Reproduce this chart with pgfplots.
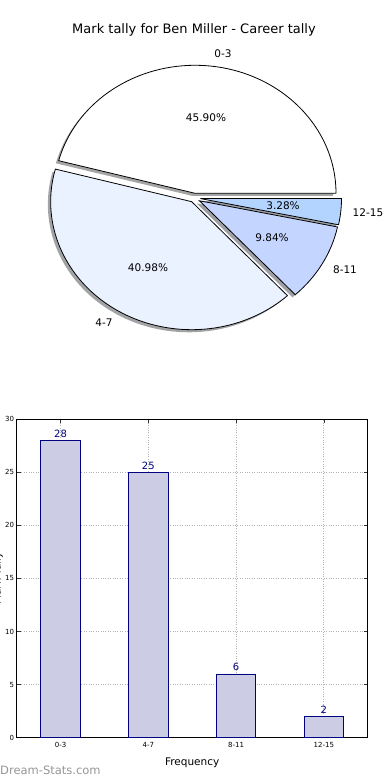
\documentclass[border=0pt]{standalone}
\usepackage{pgfplots}
\pgfplotsset{compat=1.18}
\usepackage{pgfplotstable}
\usepackage{fontspec}
\setmainfont{DejaVu Sans}
\definecolor{barfill}{RGB}{204,204,229}
\definecolor{baredge}{RGB}{0,0,128}
\definecolor{sliceA}{RGB}{255,255,255}
\definecolor{sliceB}{RGB}{234,241,255}
\definecolor{sliceC}{RGB}{196,214,255}
\definecolor{sliceD}{RGB}{179,212,255}
\definecolor{wmgray}{RGB}{150,150,150}

\pgfplotstableread{
idx label count
0 0-3 28
1 4-7 25
2 8-11 6
3 12-15 2
}\tallytable

\begin{document}
\begin{tikzpicture}[x=1pt,y=1pt]
\useasboundingbox (0,0) rectangle (390,780);
% ---------------- pie chart ----------------
\begin{axis}[at={(0,0)}, anchor=south west, scale only axis,
  width=390pt, height=780pt, xmin=0, xmax=390, ymin=0, ymax=780,
  hide axis, clip=false]
\pgfplotsextra{
  \pgfmathsetmacro\total{28+25+6+2}
  % shadows
  \gdef\angstart{0}
  \foreach \v/\c/\ax/\ay in {28/sliceA/195/586.7, 25/sliceB/191.7/578.3, 6/sliceC/199.5/579.2, 2/sliceD/200.5/581.4}{
    \pgfmathsetmacro\angend{\angstart+\v*360/\total}
    \pgfmathsetmacro\sx{\ax-2.8}
    \pgfmathsetmacro\sy{\ay-2.6}
    \fill[\c!30!black, opacity=0.5] (axis cs:\sx,\sy) -- +(\angstart:141pt and 128pt)
      arc[start angle=\angstart, end angle=\angend, x radius=141pt, y radius=128pt] -- cycle;
    \xdef\angstart{\angend}
  }
  % slices
  \gdef\angstart{0}
  \foreach \v/\c/\ax/\ay in {28/sliceA/195/586.7, 25/sliceB/191.7/578.3, 6/sliceC/199.5/579.2, 2/sliceD/200.5/581.4}{
    \pgfmathsetmacro\angend{\angstart+\v*360/\total}
    \filldraw[fill=\c, draw=black, line width=0.8pt] (axis cs:\ax,\ay) -- +(\angstart:141pt and 128pt)
      arc[start angle=\angstart, end angle=\angend, x radius=141pt, y radius=128pt] -- cycle;
    \xdef\angstart{\angend}
  }
}
\node[font=\fontsize{13}{15}\selectfont] at (axis cs:194,750) {Mark tally for Ben Miller - Career tally};
\begin{scope}[every node/.style={font=\fontsize{10.5}{12}\selectfont}]
\node at (axis cs:223,726) {0-3};
\node at (axis cs:206,662) {45.90\%};
\node at (axis cs:148,512) {40.98\%};
\node at (axis cs:104,457) {4-7};
\node at (axis cs:272,542) {9.84\%};
\node at (axis cs:345,510) {8-11};
\node at (axis cs:283,574) {3.28\%};
\node at (axis cs:368,567) {12-15};
\end{scope}
\end{axis}
% ---------------- bar chart ----------------
\begin{axis}[at={(19,40)}, anchor=south west, scale only axis,
  width=351pt, height=318.3pt,
  xmin=-0.5, xmax=3.5, ymin=0, ymax=30,
  xtick={0,1,2,3}, xticklabels={0-3,4-7,8-11,12-15},
  ytick={0,5,10,15,20,25,30},
  grid=major, grid style={dotted, gray!60, line width=0.6pt},
  tick align=inside, tick pos=both, major tick length=4pt,
  tick style={black!80, line width=0.5pt},
  axis line style={black, line width=0.8pt},
  /pgf/number format/assume math mode=true,
  tick label style={font=\fontsize{7}{8}\selectfont},
  xticklabel style={yshift=-1.5pt},
  yticklabel style={xshift=1pt},
  xlabel={Frequency},
  xlabel style={font=\fontsize{10.5}{12}\selectfont, yshift=-3pt},
  ylabel={Mark Tally},
  ylabel style={at={(axis description cs:-0.0456,0.5)}, anchor=base, rotate=0, font=\fontsize{10.5}{12}\selectfont},
  clip=false]
\addplot[ybar, bar width=0.45, fill=barfill, draw=baredge, line width=0.8pt,
  nodes near coords,
  every node near coord/.style={font=\fontsize{10}{12}\selectfont, text=baredge, inner sep=2.5pt}]
  table[x=idx, y=count] {\tallytable};
\end{axis}
\node[anchor=west, text=wmgray, font=\fontsize{11.5}{13}\selectfont, inner sep=0pt] at (0,10) {Dream-Stats.com};
\end{tikzpicture}
\end{document}
